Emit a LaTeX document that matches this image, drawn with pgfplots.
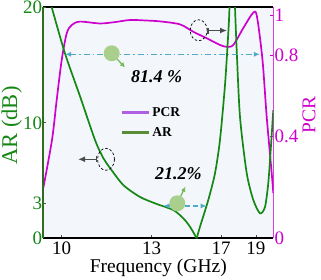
\documentclass[border=0pt]{standalone}
\usepackage{fontspec}
\setmainfont{Liberation Serif}
\usepackage{pgfplots}
\usepackage{pgfplotstable}
\pgfplotsset{compat=1.18}
\usetikzlibrary{arrows.meta}
\definecolor{argreen}{RGB}{20,135,20}
\definecolor{pcrmag}{RGB}{205,0,205}
\definecolor{leggreen}{RGB}{90,140,55}
\definecolor{legpurple}{RGB}{175,95,225}
\definecolor{tealc}{RGB}{80,170,200}
\definecolor{bgblue}{RGB}{243,247,252}
\definecolor{ballgreen}{RGB}{168,208,140}
\definecolor{arrgreen}{RGB}{120,185,90}
\definecolor{spinegreen}{RGB}{50,105,35}
\definecolor{darkarr}{RGB}{75,75,75}

\pgfplotstableread{
f ar
6.763 22.5
7.246 20.0
8.012 16.0
8.875 12.3
9.738 8.51
10.215 6.95
10.601 6.09
11.366 4.61
12.327 3.58
13.288 2.97
14.243 2.45
14.818 1.73
15.204 1.00
15.589 0.00
}\arleft

\pgfplotstableread{
f ar
15.589 0.00
15.779 1.00
16.257 3.32
16.642 5.63
16.929 8.51
17.217 13.27
17.407 17.77
17.476 20.0
17.62 27.0
17.793 20.0
17.891 16.3
18.081 10.5
18.466 5.65
18.846 3.32
19.231 2.16
19.519 2.71
19.709 4.79
19.847 7.64
19.997 11.1
}\arright

\pgfplotstableread{
f pcr
6.763 0.218
7.264 0.426
7.534 0.599
7.822 0.772
8.109 0.887
8.397 0.923
8.875 0.938
10.025 0.930
10.888 0.936
11.751 0.945
12.614 0.943
13.478 0.939
14.628 0.926
15.394 0.894
16.165 0.866
16.930 0.837
17.315 0.829
17.695 0.837
18.270 0.910
18.846 0.977
19.059 0.959
19.375 0.772
19.617 0.526
19.904 0.283
19.997 0.196
}\pcrdata

\pgfplotsset{common/.style={
  scale only axis, width=230pt, height=231pt,
  xmin=6.763, xmax=19.997,
  tick align=inside, major tick length=3pt,
  /pgf/number format/assume math mode=true,
  ticklabel style={font=\fontsize{19}{22}\selectfont},
}}

\begin{document}
\begin{tikzpicture}
\begin{axis}[common, name=pcrax,
  ymin=0, ymax=1,
  axis background/.style={fill=bgblue},
  axis x line*=top, xtick=\empty,
  x axis line style={black, line width=1.6pt},
  axis y line*=right,
  y axis line style={pcrmag!75, line width=1.4pt},
  ytick={0,0.44,0.793,0.967}, yticklabels={0,0.4,0.8,1},
  yticklabel style={text=pcrmag, inner sep=1pt},
  ytick style={pcrmag, line width=0.6pt},
  ylabel={PCR},
  ylabel style={at={(rel axis cs:1.155,0.534)}, anchor=center,
    font=\fontsize{19.5}{22}\selectfont, text=pcrmag},
]
\addplot[pcrmag, line width=1.7pt, smooth, tension=0.5] table[x=f, y=pcr] {\pcrdata};
\end{axis}

\begin{axis}[common, name=arax,
  ymin=0, ymax=20,
  axis x line*=bottom, axis y line*=left,
  x axis line style={black, line width=1.6pt},
  y axis line style={spinegreen, line width=1.8pt},
  xtick={7.822,13,17,19}, xticklabels={10,13,17,19},
  xticklabel style={inner sep=1pt, yshift=-2pt},
  xtick style={darkarr, line width=0.6pt},
  ytick={0,3,10,20},
  yticklabel style={text=argreen, inner sep=1pt},
  ytick style={spinegreen, line width=0.6pt},
  xlabel={Frequency (GHz)},
  xlabel style={at={(rel axis cs:0.5,-0.1299)}, anchor=center,
    font=\fontsize{19.5}{22}\selectfont},
  ylabel={AR (dB)},
  ylabel style={at={(rel axis cs:-0.1370,0.488)}, anchor=center,
    font=\fontsize{22.5}{24}\selectfont, text=argreen},
  legend style={draw=none, fill=none, at={(rel axis cs:0.3365,0.575)},
    anchor=north west, inner sep=0pt, row sep=5pt,
    font=\fontsize{13.5}{15}\selectfont\bfseries, cells={anchor=west}},
  legend image code/.code={\draw[#1] (0pt,0pt) -- (26.6pt,0pt);},
]
\addlegendimage{legpurple, line width=2.8pt}
\addlegendentry{PCR}
\addlegendimage{leggreen, line width=2.8pt}
\addlegendentry{AR}
\addplot[argreen, line width=1.7pt, smooth, tension=0.45, forget plot] table[x=f, y=ar] {\arleft};
\addplot[argreen, line width=1.7pt, smooth, tension=0.45, forget plot] table[x=f, y=ar] {\arright};

% 81.4 % annotation
\draw[tealc, line width=1.3pt, dash pattern=on 6pt off 3pt on 1.5pt off 3pt,
  {Latex[length=6pt,width=5pt]}-{Latex[length=6pt,width=5pt]}]
  (axis cs:8.012,15.93) -- (axis cs:19.231,15.93);
\draw[arrgreen, line width=1.3pt, -{Latex[length=5pt,width=5pt]}]
  (axis cs:10.699,16.02) -- (axis cs:11.466,14.79);
\fill[ballgreen] (axis cs:10.699,16.02) circle[radius=8pt];
\node[font=\fontsize{18}{20}\selectfont\bfseries\itshape] at (axis cs:13.288,13.99) {81.4 \%};

% 21.2% annotation
\draw[tealc, line width=1.3pt, dash pattern=on 5pt off 3pt,
  {Latex[length=6pt,width=5pt]}-{Latex[length=6pt,width=5pt]}]
  (axis cs:13.667,2.80) -- (axis cs:16.165,2.80);
\draw[arrgreen, line width=1.3pt, -{Latex[length=5pt,width=5pt]}]
  (axis cs:14.473,3.03) -- (axis cs:14.94,4.47);
\fill[ballgreen] (axis cs:14.473,3.03) circle[radius=8pt];
\node[font=\fontsize{18}{20}\selectfont\bfseries\itshape] at (axis cs:14.531,5.63) {21.2\%};

% axis pointers
\draw[black, line width=0.7pt, dash pattern=on 2.5pt off 2pt]
  (axis cs:15.704,18.01) ellipse[x radius=8.5pt, y radius=10.5pt];
\draw[darkarr, line width=1.5pt, {Bar[width=6pt]}-{Latex[length=7pt,width=6pt]}]
  (axis cs:16.186,17.99) -- (axis cs:17.336,17.99);
\draw[black, line width=0.7pt, dash pattern=on 2.5pt off 2pt]
  (axis cs:10.371,6.84) ellipse[x radius=8.5pt, y radius=11pt];
\draw[darkarr, line width=1.5pt, {Bar[width=6pt]}-{Latex[length=7pt,width=6pt]}]
  (axis cs:9.853,6.84) -- (axis cs:8.760,6.84);
\end{axis}
\pgfresetboundingbox
\path ([xshift=-43.3pt,yshift=-41.7pt]arax.south west) rectangle ([xshift=47.7pt,yshift=7.3pt]arax.north east);
\end{tikzpicture}
\end{document}
